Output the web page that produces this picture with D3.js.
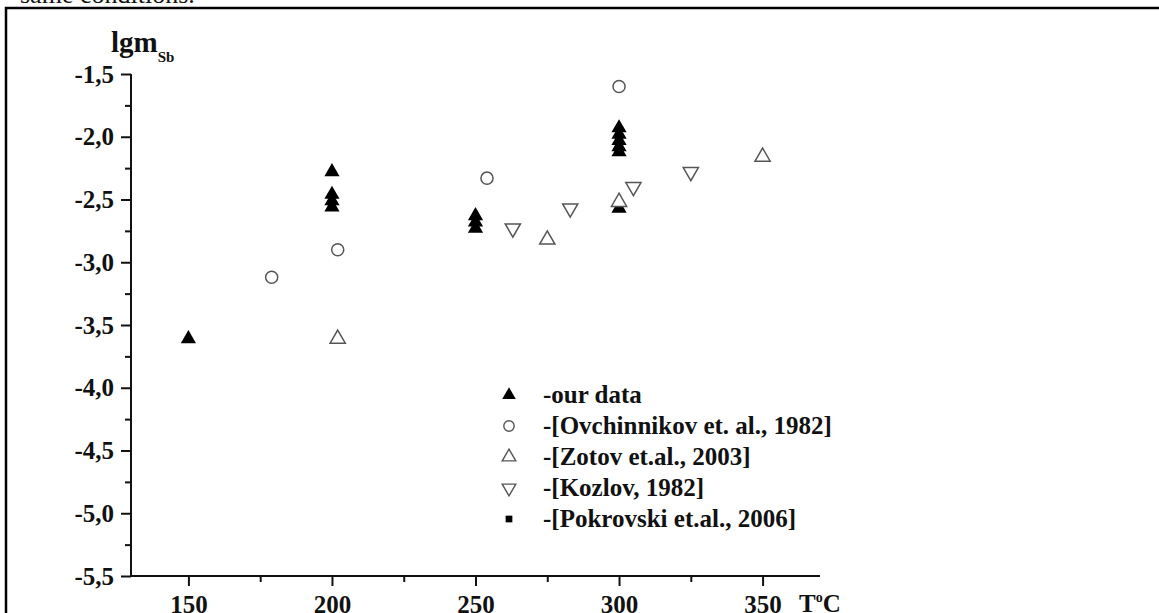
<!DOCTYPE html>
<html>
<head>
<meta charset="utf-8">
<script src="https://cdn.jsdelivr.net/npm/d3@7"></script>
<style>
  body { margin: 0; background: #fff; }
  svg { display: block; }
  text { font-family: 'Liberation Serif', 'Times New Roman', serif; font-weight: bold; fill: #111; }
</style>
</head>
<body>
<svg id="chart" width="1159" height="613"></svg>
<script>
// data
const ourT = [150, 200, 200, 200, 200, 250, 250, 250, 300, 300, 300, 300, 300, 300]
const ourLgm = [-3.61, -2.28, -2.46, -2.51, -2.56, -2.63, -2.68, -2.73, -1.93, -1.98, -2.03, -2.08, -2.12, -2.57]
const ovchT = [179, 202, 254, 300]
const ovchLgm = [-3.12, -2.90, -2.33, -1.60]
const zotovT = [202, 275, 300, 350]
const zotovLgm = [-3.61, -2.82, -2.52, -2.16]
const kozlovT = [263, 283, 305, 325]
const kozlovLgm = [-2.73, -2.57, -2.40, -2.28]
const pokrT = [300]
const pokrLgm = [-2.56]
const xTicks = [150, 200, 250, 300, 350]
const yTicks = [-5.5, -5, -4.5, -4, -3.5, -3, -2.5, -2, -1.5]
const legendLabels = ['-our data', '-[Ovchinnikov et. al., 1982]', '-[Zotov et.al., 2003]', '-[Kozlov, 1982]', '-[Pokrovski et.al., 2006]']

const svg = d3.select('#chart')

// page frame and cut-off caption line above it
svg.append('text')
  .attr('x', 20).attr('y', 3)
  .style('font-size', '26px')
  .style('font-weight', 'normal')
  .text('same conditions.')
svg.append('rect')
  .attr('x', 6).attr('y', 8)
  .attr('width', 1170).attr('height', 700)
  .attr('fill', 'none')
  .attr('stroke', '#000')
  .attr('stroke-width', 2.5)

const xScale = d3.scaleLinear().domain([130, 370]).range([131, 820])
const yScale = d3.scaleLinear().domain([-5.5, -1.5]).range([576, 74])

// axes
const xAxis = d3.axisBottom(xScale)
  .tickValues(xTicks)
  .tickSize(10)
  .tickPadding(9)
  .tickFormat(d3.format('d'))
const xMinor = d3.axisBottom(xScale)
  .tickValues([175, 225, 275, 325])
  .tickSize(6)
  .tickFormat('')
const yAxis = d3.axisLeft(yScale)
  .tickValues(yTicks)
  .tickSize(10)
  .tickPadding(7)
  .tickFormat(d => d3.format('.1f')(d).replace('.', ',').replace('−', '-'))
const yMinor = d3.axisLeft(yScale)
  .tickValues(d3.range(-5.25, -1.5, 0.5))
  .tickSize(6)
  .tickFormat('')

function styleAxis (g) {
  g.select('.domain').attr('stroke', '#111').attr('stroke-width', 2)
  g.selectAll('.tick line').attr('stroke', '#111').attr('stroke-width', 2)
  g.selectAll('.tick text').style('font-size', '25px')
    .style('font-family', "'Liberation Serif', serif").style('font-weight', 'bold').attr('fill', '#111')
}

svg.append('g').attr('transform', 'translate(0,576)').call(xMinor).call(styleAxis)
  .select('.domain').remove()
svg.append('g').attr('transform', 'translate(131,0)').call(yMinor).call(styleAxis)
  .select('.domain').remove()
svg.append('g').attr('transform', 'translate(0,576)').call(xAxis).call(g => {
  styleAxis(g)
  g.select('.domain').attr('d', `M${xScale(130)},0H${xScale(370)}`)
})
svg.append('g').attr('transform', 'translate(131,0)').call(yAxis).call(g => {
  styleAxis(g)
  g.select('.domain').attr('d', `M0,${yScale(-5.5)}V${yScale(-1.5)}`)
})

// axis titles
const yTitle = svg.append('text').attr('x', 111).attr('y', 52).style('font-size', '29px')
yTitle.append('tspan').text('lgm')
yTitle.append('tspan').attr('dy', 10).style('font-size', '15px').text('Sb')

const xTitle = svg.append('text').attr('x', 799).attr('y', 612).style('font-size', '25px')
xTitle.append('tspan').text('T')
xTitle.append('tspan').attr('dy', -10).style('font-size', '14px').text('o')
xTitle.append('tspan').attr('dy', 10).text('C')

// marker shapes
const upTri = d3.symbol().type(d3.symbolTriangle).size(100)
const circ = d3.symbol().type(d3.symbolCircle).size(115)
const sq = d3.symbol().type(d3.symbolSquare).size(64)

const series = [
  { t: ourT, v: ourLgm, path: upTri, rot: 0, fill: '#000', stroke: 'none' },
  { t: pokrT, v: pokrLgm, path: sq, rot: 0, fill: '#000', stroke: 'none' },
  { t: ovchT, v: ovchLgm, path: circ, rot: 0, fill: 'none', stroke: '#555' },
  { t: zotovT, v: zotovLgm, path: upTri, rot: 0, fill: '#fff', stroke: '#555' },
  { t: kozlovT, v: kozlovLgm, path: upTri, rot: 180, fill: 'none', stroke: '#555' }
]

const plot = svg.append('g')
series.forEach(s => {
  plot.append('g')
    .selectAll('path')
    .data(s.t.map((t, i) => [t, s.v[i]]))
    .enter()
    .append('path')
    .attr('d', s.path())
    .attr('transform', d => `translate(${xScale(d[0])},${yScale(d[1])}) rotate(${s.rot})`)
    .attr('fill', s.fill)
    .attr('stroke', s.stroke)
    .attr('stroke-width', 1.5)
})

// legend
const legendMarks = [
  { path: d3.symbol().type(d3.symbolTriangle).size(80), rot: 0, fill: '#000', stroke: 'none' },
  { path: d3.symbol().type(d3.symbolCircle).size(85), rot: 0, fill: 'none', stroke: '#555' },
  { path: d3.symbol().type(d3.symbolTriangle).size(80), rot: 0, fill: 'none', stroke: '#555' },
  { path: d3.symbol().type(d3.symbolTriangle).size(80), rot: 180, fill: 'none', stroke: '#555' },
  { path: d3.symbol().type(d3.symbolSquare).size(45), rot: 0, fill: '#000', stroke: 'none' }
]
const legend = svg.append('g')
legendLabels.forEach((label, i) => {
  const y = 395 + i * 31
  const m = legendMarks[i]
  legend.append('path')
    .attr('d', m.path())
    .attr('transform', `translate(509,${y}) rotate(${m.rot})`)
    .attr('fill', m.fill)
    .attr('stroke', m.stroke)
    .attr('stroke-width', 1.4)
  legend.append('text')
    .attr('x', 543)
    .attr('y', y + 8)
    .style('font-size', '25px')
    .text(label)
})
</script>
</body>
</html>
